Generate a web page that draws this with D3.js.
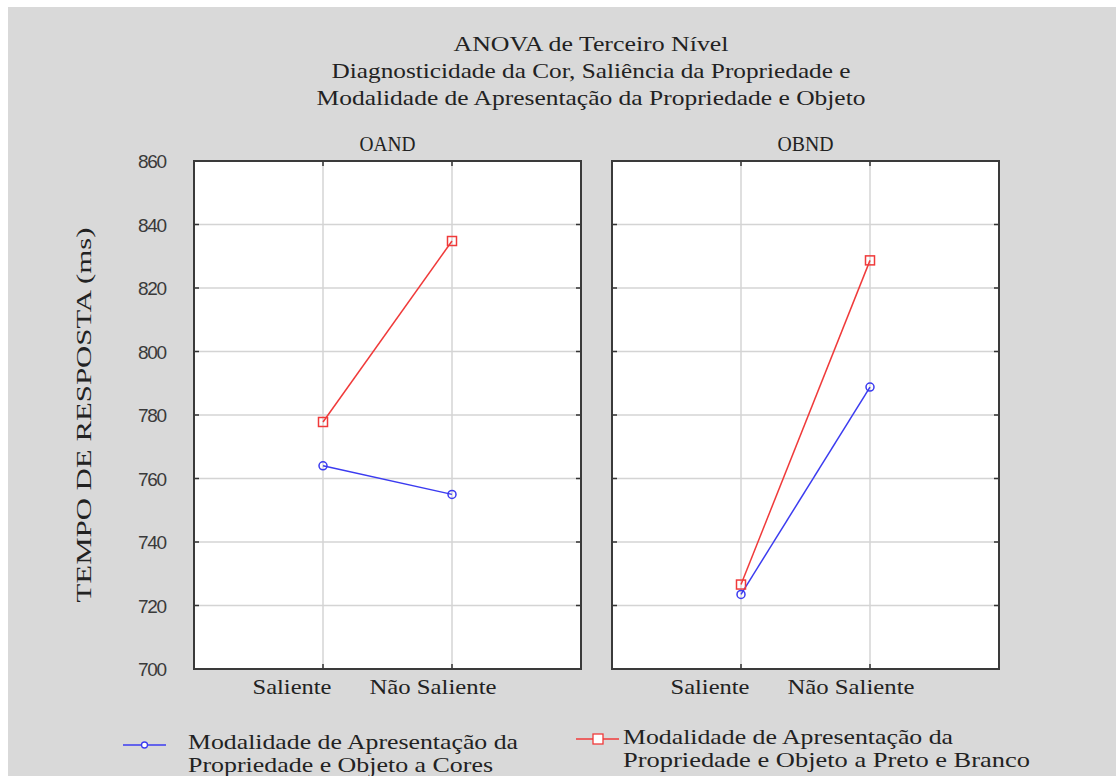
<!DOCTYPE html>
<html><head><meta charset="utf-8">
<script src="https://cdn.jsdelivr.net/npm/d3@7"></script>
<style>
html,body{margin:0;padding:0;background:#fff;}
svg{display:block;}
</style></head>
<body>
<svg id="chart" width="1116" height="776"></svg>
<script>
const titleLines = ["ANOVA de Terceiro Nível", "Diagnosticidade da Cor, Saliência da Propriedade e", "Modalidade de Apresentação da Propriedade e Objeto"];
const panels = ["OAND", "OBND"];
const categories = ["Saliente", "Não Saliente"];
const yTicks = [700, 720, 740, 760, 780, 800, 820, 840, 860];
const seriesNames = ["Modalidade de Apresentação da|Propriedade e Objeto a Cores", "Modalidade de Apresentação da|Propriedade e Objeto a Preto e Branco"];
const coresValues = [[764, 755], [723.5, 788.8]];      // per panel: Saliente, Não Saliente
const pretoBrancoValues = [[777.8, 834.8], [726.6, 828.7]];
const yLabel = "TEMPO DE RESPOSTA (ms)";

const svg = d3.select("#chart");
const W = 1116, H = 776;
svg.append("rect").attr("x", 8).attr("y", 7).attr("width", W - 8).attr("height", H - 7).attr("fill", "#d9d9d9");

const serif = "'Liberation Serif','Times New Roman',serif";
const sans = "'Liberation Sans',Arial,sans-serif";
const FS = 22;

// title
const titleW = [275, 519, 549];
titleLines.forEach((t, i) => {
  svg.append("text").attr("x", 591).attr("y", 51 + i * 27)
    .attr("text-anchor", "middle").attr("font-family", serif).attr("font-size", FS)
    .attr("fill", "#222").attr("textLength", titleW[i]).attr("lengthAdjust", "spacingAndGlyphs").text(t);
});

const panelX = [194, 612], panelW = 387, pTop = 161, pBottom = 669;
const y = d3.scaleLinear().domain([700, 860]).range([pBottom, pTop]);
const colors = {blue: "#3b3bf0", red: "#f03a3a"};

panels.forEach((p, pi) => {
  const x0 = panelX[pi];
  const x = d3.scalePoint().domain(["", ...categories, " "]).range([x0, x0 + panelW]);
  const g = svg.append("g");
  g.append("rect").attr("x", x0).attr("y", pTop).attr("width", panelW).attr("height", pBottom - pTop).attr("fill", "#fff");
  // grid
  g.selectAll(".hg").data(yTicks.slice(1, -1)).enter().append("line")
    .attr("x1", x0).attr("x2", x0 + panelW).attr("y1", d => y(d)).attr("y2", d => y(d))
    .attr("stroke", "#d4d4d4").attr("stroke-width", 1.5);
  g.selectAll(".vg").data(categories).enter().append("line")
    .attr("x1", d => x(d)).attr("x2", d => x(d)).attr("y1", pTop).attr("y2", pBottom)
    .attr("stroke", "#d4d4d4").attr("stroke-width", 1.5);
  // ticks inward
  yTicks.forEach(v => {
    g.append("line").attr("x1", x0).attr("x2", x0 + 5).attr("y1", y(v)).attr("y2", y(v)).attr("stroke", "#333").attr("stroke-width", 1.5);
    g.append("line").attr("x1", x0 + panelW - 5).attr("x2", x0 + panelW).attr("y1", y(v)).attr("y2", y(v)).attr("stroke", "#333").attr("stroke-width", 1.5);
  });
  categories.forEach(c => {
    g.append("line").attr("x1", x(c)).attr("x2", x(c)).attr("y1", pTop).attr("y2", pTop + 5).attr("stroke", "#333").attr("stroke-width", 1.5);
    g.append("line").attr("x1", x(c)).attr("x2", x(c)).attr("y1", pBottom - 5).attr("y2", pBottom).attr("stroke", "#333").attr("stroke-width", 1.5);
  });
  g.append("rect").attr("x", x0).attr("y", pTop).attr("width", panelW).attr("height", pBottom - pTop)
    .attr("fill", "none").attr("stroke", "#3a3a3a").attr("stroke-width", 2);
  // panel title
  g.append("text").attr("x", x0 + panelW / 2).attr("y", 151).attr("text-anchor", "middle")
    .attr("font-family", serif).attr("font-size", FS).attr("fill", "#222")
    .attr("textLength", 56).attr("lengthAdjust", "spacingAndGlyphs").text(p);
  // x labels
  const xOff = [-31, -19], xLen = [79, 127];
  categories.forEach((c, ci) => {
    g.append("text").attr("x", x(c) + xOff[ci]).attr("y", 694).attr("text-anchor", "middle")
      .attr("font-family", serif).attr("font-size", FS).attr("fill", "#222")
      .attr("textLength", xLen[ci]).attr("lengthAdjust", "spacingAndGlyphs").text(c);
  });
  // series
  const line = d3.line().x((d, i) => x(categories[i])).y(d => y(d));
  const red = pretoBrancoValues[pi], blue = coresValues[pi];
  g.append("path").attr("d", line(red)).attr("fill", "none").attr("stroke", colors.red).attr("stroke-width", 1.5);
  g.append("path").attr("d", line(blue)).attr("fill", "none").attr("stroke", colors.blue).attr("stroke-width", 1.5);
  red.forEach((v, i) => g.append("rect").attr("x", x(categories[i]) - 4.5).attr("y", y(v) - 4.5).attr("width", 9).attr("height", 9)
    .attr("fill", "none").attr("stroke", colors.red).attr("stroke-width", 1.5));
  blue.forEach((v, i) => g.append("circle").attr("cx", x(categories[i])).attr("cy", y(v)).attr("r", 4)
    .attr("fill", "none").attr("stroke", colors.blue).attr("stroke-width", 1.5));
});

// y tick labels
yTicks.forEach(v => {
  svg.append("text").attr("x", 167).attr("y", y(v) + 7).attr("text-anchor", "end")
    .attr("font-family", sans).attr("font-size", 19).attr("fill", "#3a3a3a")
    .attr("textLength", 29).attr("lengthAdjust", "spacing").text(v);
});

// y label
svg.append("text").attr("transform", "translate(91,415) rotate(-90)").attr("text-anchor", "middle")
  .attr("font-family", serif).attr("font-size", FS).attr("fill", "#222")
  .attr("textLength", 375).attr("lengthAdjust", "spacingAndGlyphs").text(yLabel);

// legend
const legend = [
  {name: seriesNames[0], color: colors.blue, sym: "circle", sx: 123, sy: 745, tx: 188, ty: 749, w: [330, 305]},
  {name: seriesNames[1], color: colors.red, sym: "rect", sx: 576, sy: 739, tx: 623, ty: 744, w: [330, 407]}
];
legend.forEach(L => {
  svg.append("line").attr("x1", L.sx).attr("x2", L.sx + 43).attr("y1", L.sy).attr("y2", L.sy).attr("stroke", L.color).attr("stroke-width", 1.5);
  if (L.sym === "circle") {
    svg.append("circle").attr("cx", L.sx + 21.5).attr("cy", L.sy).attr("r", 3).attr("fill", "#fff").attr("stroke", L.color).attr("stroke-width", 1.3);
  } else {
    svg.append("rect").attr("x", L.sx + 17).attr("y", L.sy - 5).attr("width", 10).attr("height", 10).attr("fill", "#fff").attr("stroke", L.color).attr("stroke-width", 1.3);
  }
  L.name.split("|").forEach((t, i) => {
    svg.append("text").attr("x", L.tx).attr("y", L.ty + i * 23).attr("font-family", serif).attr("font-size", FS).attr("fill", "#222")
      .attr("textLength", L.w[i]).attr("lengthAdjust", "spacingAndGlyphs").text(t);
  });
});
</script>
</body></html>
